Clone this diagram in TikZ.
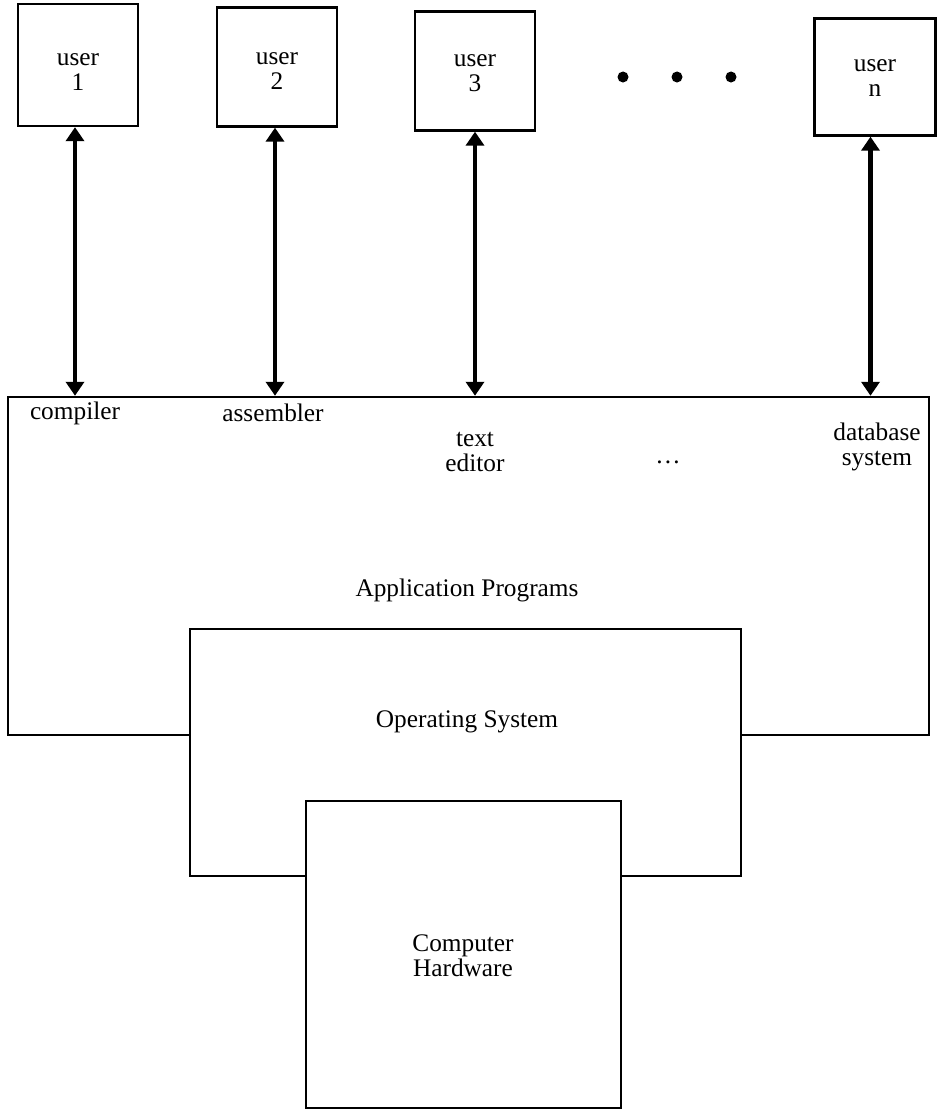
\documentclass[tikz,border=0pt]{standalone}
\usepackage{fontspec}
\setmainfont{Liberation Serif}
\usetikzlibrary{arrows.meta}
\begin{document}
\begin{tikzpicture}[x=0.01cm,y=-0.01cm,
  every node/.style={font=\fontsize{7.2pt}{7pt}\selectfont},
  box/.style={draw,line width=0.65pt,fill=white,inner sep=0pt},
  lbl/.style={align=center,inner sep=0pt},
  dblarrow/.style={line width=1.15pt,{Triangle[length=0.14cm,width=0.18cm]}-{Triangle[length=0.14cm,width=0.18cm]}},
  dot/.style={circle,fill=black,inner sep=0pt,minimum size=0.11cm}]
\useasboundingbox (0,0) rectangle (942,1115);
% user boxes
\node[box,minimum width=1.2cm,minimum height=1.22cm] (u1) at (78,65) {};
\node[box,minimum width=1.2cm,minimum height=1.19cm] (u2) at (277,67) {};
\node[box,minimum width=1.2cm,minimum height=1.19cm] (u3) at (475,71) {};
\node[box,minimum width=1.21cm,minimum height=1.17cm] (un) at (875,77) {};
\node[lbl] (tu1) at (78,72) {user\\1};
\node[lbl] (tu2) at (277,71) {user\\2};
\node[lbl] (tu3) at (475,73) {user\\3};
\node[lbl] (tun) at (875,78) {user\\n};
% ellipsis dots
\node[dot] (d1) at (623,77) {};
\node[dot] (d2) at (677,77) {};
\node[dot] (d3) at (731,77) {};
% layered boxes
\node[box,minimum width=9.21cm,minimum height=3.38cm] (app) at (468.5,566) {};
\node[box,minimum width=5.51cm,minimum height=2.47cm] (os) at (465.5,752.5) {};
\node[box,minimum width=3.15cm,minimum height=3.07cm] (hw) at (463.5,954.5) {};
% texts
\node[lbl] (tapp) at (467,590) {Application Programs};
\node[lbl] (tos) at (467,722) {Operating System};
\node[lbl] (thw) at (463,956) {Computer\\Hardware};
\node[lbl] (l1) at (75,413) {compiler};
\node[lbl] (l2) at (273,413) {assembler};
\node[lbl] (l3) at (475,452) {text\\editor};
\node[lbl] (l4) at (668,462) {\dots};
\node[lbl] (l5) at (877,447) {database\\system};
% arrows
\draw[dblarrow] ([xshift=-0.03cm]u1.south) -- ([xshift=-0.03cm]u1.south |- app.north);
\draw[dblarrow] ([xshift=-0.02cm]u2.south) -- ([xshift=-0.02cm]u2.south |- app.north);
\draw[dblarrow] (u3.south) -- (u3.south |- app.north);
\draw[dblarrow] ([xshift=-0.045cm]un.south) -- ([xshift=-0.045cm]un.south |- app.north);
\end{tikzpicture}
\end{document}
